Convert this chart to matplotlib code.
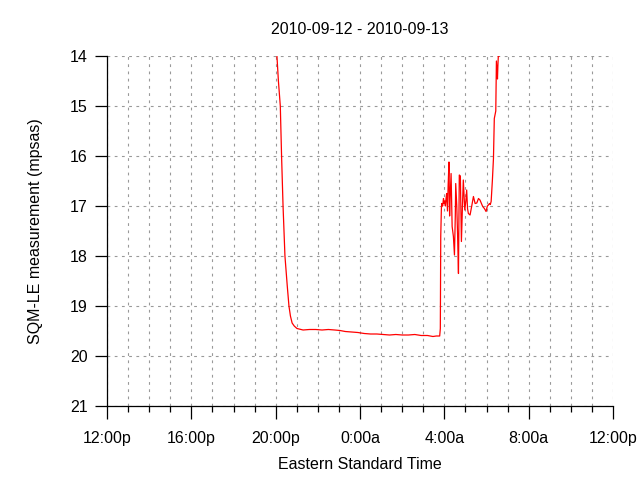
import matplotlib
matplotlib.use("Agg")
import matplotlib.pyplot as plt
from matplotlib.ticker import MultipleLocator

plt.rcParams['font.family'] = ['Liberation Sans', 'DejaVu Sans']

# hours since 12:00 noon on 2010-09-12
hours = [7.95, 8.06, 8.13, 8.22, 8.28, 8.35, 8.44, 8.55, 8.63, 8.70, 8.78, 8.88, 9.01,
         9.3, 9.6, 9.9, 10.2, 10.5, 10.8, 11.05, 11.3, 11.6, 11.9, 12.2, 12.5, 12.8,
         13.1, 13.4, 13.7, 14.0, 14.3, 14.6, 14.9, 15.2, 15.46, 15.62, 15.78, 15.81,
         15.83, 15.86, 15.88, 15.92, 15.96, 15.99, 16.02, 16.05, 16.08, 16.11, 16.15,
         16.18, 16.22, 16.25, 16.27, 16.32, 16.37, 16.43, 16.48, 16.52, 16.54, 16.59,
         16.63, 16.67, 16.71, 16.76, 16.81, 16.86, 16.90, 16.97, 17.02, 17.06, 17.10,
         17.14, 17.22, 17.30, 17.38, 17.46, 17.54, 17.62, 17.69, 17.76, 17.82, 17.90,
         17.98, 18.04, 18.09, 18.14, 18.18, 18.22, 18.28, 18.33, 18.37, 18.44, 18.47,
         18.52, 18.54, 18.56, 18.61, 18.68]
sqm = [13.5, 14.0, 14.5, 15.0, 16.0, 17.0, 18.0, 18.6, 19.0, 19.2, 19.34, 19.4, 19.45,
       19.48, 19.47, 19.47, 19.48, 19.47, 19.48, 19.49, 19.51, 19.52, 19.53, 19.55, 19.56, 19.56,
       19.57, 19.58, 19.57, 19.58, 19.58, 19.57, 19.59, 19.59, 19.61, 19.6, 19.6, 19.45,
       17.6, 17.05, 16.95, 17.0, 16.85, 16.95, 16.9, 17.0, 16.85, 16.75, 17.1,
       16.6, 16.12, 17.2, 16.9, 16.35, 17.41, 17.61, 17.98, 17.2, 16.55, 17.0,
       17.6, 18.35, 16.38, 16.4, 17.71, 17.0, 16.48, 17.08, 16.9, 16.68, 17.05,
       17.15, 17.18, 17.0, 16.81, 16.95, 16.94, 16.85, 16.88, 16.95, 17.01, 17.05,
       17.11, 17.0, 16.98, 16.95, 16.97, 16.91, 16.48, 16.05, 15.25, 15.1, 14.1,
       14.46, 14.2, 14.0, 14.0, 13.5]

tick_hours = [0, 4, 8, 12, 16, 20, 24]
tick_labels = ["12:00p", "16:00p", "20:00p", "0:00a", "4:00a", "8:00a", "12:00p"]
y_ticks = [14, 15, 16, 17, 18, 19, 20, 21]

fig = plt.figure(figsize=(6.4, 4.8), dpi=100)
ax = fig.add_axes([107 / 640, 1 - 406 / 480, 506 / 640, 350 / 480])

ax.plot(hours, sqm, color="red", lw=0.9)

ax.set_xlim(0, 24)
ax.set_ylim(21, 14)
ax.set_xticks(tick_hours)
ax.set_xticklabels(tick_labels)
ax.xaxis.set_minor_locator(MultipleLocator(1))
ax.set_yticks(y_ticks)

grid_kw = dict(color="#999999", lw=0.8, linestyle=(0, (2.5, 4)))
ax.grid(True, which="both", axis="x", **grid_kw)
ax.grid(True, which="major", axis="y", **grid_kw)
ax.set_axisbelow(True)

for s in ["top", "right"]:
    ax.spines[s].set_visible(False)
for s in ["left", "bottom"]:
    ax.spines[s].set_linewidth(0.9)

ax.tick_params(axis="both", which="major", direction="out", length=9, width=0.9,
               labelsize=11.5, pad=5)
ax.tick_params(axis="x", which="minor", direction="out", length=4.5, width=0.9)
ax.tick_params(axis="x", which="major", pad=9)

ax.set_title("2010-09-12 - 2010-09-13", fontsize=11.5, pad=16)
ax.set_xlabel("Eastern Standard Time", fontsize=11.5, labelpad=8)
ax.set_ylabel("SQM-LE measurement (mpsas)", fontsize=11.5, labelpad=19)

fig.savefig("out.png", dpi=100)
